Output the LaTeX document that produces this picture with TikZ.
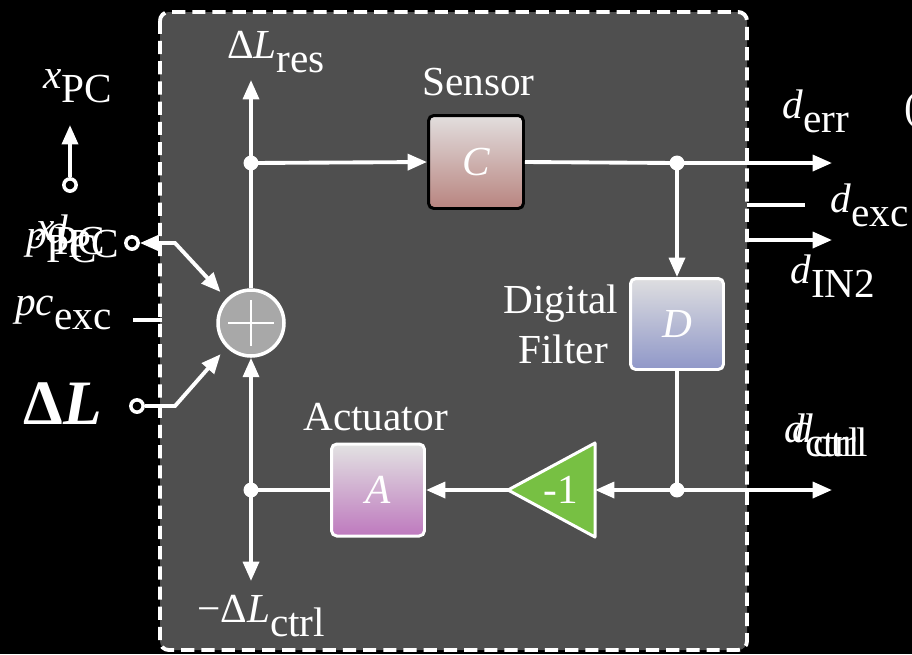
\documentclass[tikz,border=0pt]{standalone}
\usepackage{fontspec}
\setmainfont{Liberation Serif}
\usetikzlibrary{arrows.meta,shapes.geometric}
\newcommand{\sbs}[2]{#1\raisebox{-0.36em}{#2}}
\definecolor{panel}{HTML}{4F4F4F}
\definecolor{sumgray}{HTML}{A8A8A8}
\definecolor{gainGreen}{HTML}{77C043}
\begin{document}
\begin{tikzpicture}[x=0.02cm,y=-0.02cm,
  every node/.style={text=white,font=\fontsize{23.5}{26}\selectfont},
  wire/.style={draw=white,line width=2.2pt},
  arr/.style={wire,-{Triangle[length=11pt,width=9pt]}},
  dot/.style={circle,fill=white,inner sep=0pt,minimum size=8.5pt},
  port/.style={circle,draw=white,line width=2pt,fill=black,inner sep=0pt,minimum size=7pt},
  blk/.style={rounded corners=3pt,minimum width=1.9cm,minimum height=1.86cm,line width=1.7pt,font=\fontsize{23.5}{26}\selectfont\itshape},
  lbl/.style={inner sep=0pt,anchor=base west}]
\useasboundingbox (0,0) rectangle (912,654);
\fill[black] (0,0) rectangle (912,654);
% panel
\draw[fill=panel,draw=white,line width=2.2pt,dash pattern=on 7.5pt off 4pt,rounded corners=5pt] (160,12) rectangle (747,650);

% blocks
\node[blk,draw=black,top color={rgb,255:red,226;green,222;blue,222},bottom color={rgb,255:red,184;green,132;blue,127}] (C) at (476,162) {C};
\node[blk,draw=white,minimum width=1.86cm,minimum height=1.82cm,top color={rgb,255:red,222;green,222;blue,224},bottom color={rgb,255:red,143;green,151;blue,200}] (D) at (677,324) {D};
\node[blk,draw=white,minimum width=1.86cm,minimum height=1.84cm,top color={rgb,255:red,226;green,226;blue,226},bottom color={rgb,255:red,190;green,121;blue,190}] (A) at (378,490) {A};
\node[circle,draw=white,fill=sumgray,line width=2pt,minimum size=1.32cm,inner sep=0pt] (sum) at (251,323) {};
\draw[white,line width=1.6pt] (sum.center) ++(-23,0) -- ++(46,0);
\draw[white,line width=1.6pt] (sum.center) ++(0,-23) -- ++(0,46);

% gain triangle
\coordinate (negL) at (508,490);
\coordinate (negR) at (595,490);
\draw[fill=gainGreen,draw=white,line width=1.7pt,line join=round] (negL) -- (595,443) -- (595,537) -- cycle;
\node (neg) at (561,490) {-1};

% junctions and ends
\coordinate (jtop) at (251,163);
\coordinate (jerr) at (677,163);
\coordinate (jctrl) at (677,490);
\coordinate (jbot) at (251,490);
\coordinate (resEnd) at (251,80);
\coordinate (errEnd) at (832,163);
\coordinate (ctrlEnd) at (832,490);
\coordinate (ctrlDown) at (251,581);
\coordinate (excA) at (747,205);
\coordinate (excB) at (805,205);
\coordinate (inA) at (747,240);
\coordinate (inB) at (832,240);
\coordinate (pcA) at (133,320);
\coordinate (pcB) at (162,320);
\coordinate (xEnd) at (70,125);
\coordinate (bendP) at (175,243);
\coordinate (bendL) at (175,406);

\node[port] (pX) at (70,185) {};
\node[port] (pP) at (132,243) {};
\node[port] (pL) at (137,406) {};

% wires
\draw[wire] (sum) -- (jtop);
\draw[arr] (jtop) -- (resEnd);
\draw[arr] (jtop) -- (C.west);
\draw[wire] (C.east) -- (jerr);
\draw[arr] (jerr) -- (errEnd);
\draw[arr] (jerr) -- (D.north);
\draw[wire] (D.south) -- (jctrl);
\draw[arr] (jctrl) -- (ctrlEnd);
\draw[arr] (jctrl) -- (negR);
\draw[arr] (negL) -- (A.east);
\draw[wire] (A.west) -- (jbot);
\draw[arr] (jbot) -- (sum.south);
\draw[arr] (jbot) -- (ctrlDown);
\draw[arr] (pX) -- (xEnd);
\draw[wire,{Triangle[length=11pt,width=9pt]}-{Triangle[length=11pt,width=9pt]},shorten >=5pt] (pP) -- (bendP) -- (sum.135);
\draw[wire] (pcA) -- (pcB);
\draw[arr,shorten >=5pt] (pL) -- (bendL) -- (sum.225);
\draw[wire] (excA) -- (excB);
\draw[arr] (inA) -- (inB);

\foreach \j in {jtop,jerr,jctrl,jbot} \node[dot] at (\j) {};

% labels
\node[lbl] (lres) at (227,58) {\sbs{Δ\textit{L}}{res}};
\node[lbl] (lsensor) at (422,95) {Sensor};
\node[lbl] (lact) at (303,430) {Actuator};
\node[inner sep=0pt,anchor=base] (ldig) at (561,313) {Digital};
\node[inner sep=0pt,anchor=base] (lfil) at (563,363) {Filter};
\node[lbl] (lx) at (43,88) {\sbs{\textit{x}}{PC}};
\node[lbl] (lerr) at (782,118) {\sbs{\textit{d}}{err}};
\node[lbl] (lexc) at (830,212) {\sbs{\textit{d}}{exc}};
\node[lbl] (lin2) at (790,283) {\sbs{\textit{d}}{IN2}};
\node[lbl] (lctrlA) at (784,442) {\sbs{\textit{d}}{ctrl}};
\node[lbl] (lctrlB) at (792,442) {\sbs{\textit{d}}{ctrl}};
\node[lbl] (lmctrl) at (197,622) {\sbs{−Δ\textit{L}}{ctrl}};
\node[lbl] (lpc) at (15,315) {\sbs{\textit{pc}}{exc}};
\node[lbl,font=\fontsize{36}{40}\selectfont\bfseries] (lDL) at (23,424) {Δ\textit{L}};
\node[lbl] (lpp1) at (26,248) {\sbs{\textit{p}}{PC}};
\node[lbl] (lpp2) at (36,240) {\sbs{\textit{x}}{PC}};
\node[lbl] (lpp3) at (47,243) {\sbs{\textit{d}}{PC}};
\node[lbl] (edge) at (904,120) {(};
\end{tikzpicture}
\end{document}
